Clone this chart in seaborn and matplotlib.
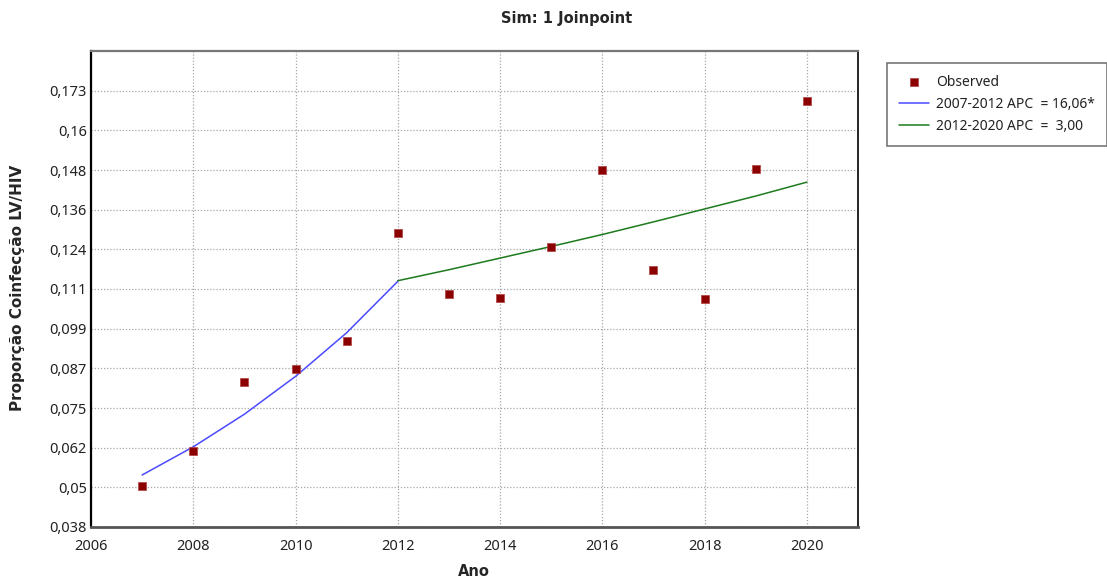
import matplotlib
matplotlib.use("Agg")
import matplotlib.pyplot as plt
import pandas as pd
import seaborn as sns

# Observed values
years = [2007, 2008, 2009, 2010, 2011, 2012, 2013, 2014, 2015, 2016, 2017, 2018, 2019, 2020]
observed = [0.0506, 0.0615, 0.0830, 0.0870, 0.0954, 0.1290, 0.1101, 0.1090,
            0.1247, 0.1484, 0.1175, 0.1085, 0.1489, 0.1697]

# Joinpoint fitted segments
seg1_years = [2007, 2008, 2009, 2010, 2011, 2012]
seg1_fit = [0.0541, 0.0628, 0.0729, 0.0846, 0.0981, 0.1140]
seg2_years = [2012, 2013, 2014, 2015, 2016, 2017, 2018, 2019, 2020]
seg2_fit = [0.1142, 0.1176, 0.1212, 0.1248, 0.1285, 0.1324, 0.1364, 0.1404, 0.1447]

seg1_label = "2007-2012 APC  = 16,06*"
seg2_label = "2012-2020 APC  =  3,00"

ytick_labels = ["0,038", "0,05", "0,062", "0,075", "0,087", "0,099",
                "0,111", "0,124", "0,136", "0,148", "0,16", "0,173"]
xticks = [2006, 2008, 2010, 2012, 2014, 2016, 2018, 2020]

df_obs = pd.DataFrame({"Ano": years, "Prop": observed})
df_s1 = pd.DataFrame({"Ano": seg1_years, "Prop": seg1_fit})
df_s2 = pd.DataFrame({"Ano": seg2_years, "Prop": seg2_fit})

sns.set_style("white")
plt.rcParams["font.family"] = ["Noto Sans", "DejaVu Sans"]

fig = plt.figure(figsize=(11.07, 5.78), dpi=100)
ax = fig.add_axes([91 / 1107, 51 / 578, (858 - 91) / 1107, (527 - 51) / 578])

sns.lineplot(data=df_s1, x="Ano", y="Prop", color="#4a4aff", linewidth=1.1,
             label=seg1_label, ax=ax)
sns.lineplot(data=df_s2, x="Ano", y="Prop", color="#1e7a1e", linewidth=1.1,
             label=seg2_label, ax=ax)
sns.scatterplot(data=df_obs, x="Ano", y="Prop", marker="s", s=40, color="#8b0000",
                edgecolor="#b04040", linewidth=0.5, label="Observed", ax=ax, zorder=5)

step = (0.173 - 0.038) / 11
yticks = [0.038 + i * step for i in range(12)]
ax.set_ylim(0.038, 0.038 + 12 * step)
ax.set_xlim(2006, 2021)
ax.set_yticks(yticks)
ax.set_yticklabels(ytick_labels)
ax.set_xticks(xticks)
ax.tick_params(labelsize=10.5, length=0, labelcolor="#222222")
ax.tick_params(axis="y", pad=3)
ax.tick_params(axis="x", pad=9)
ax.grid(True, linestyle=(0, (1, 1.5)), color="#a8a8a8", linewidth=0.9)

for side in ["left", "right"]:
    ax.spines[side].set_color("black")
ax.spines["left"].set_linewidth(1.6)
ax.spines["right"].set_linewidth(1.2)
ax.spines["bottom"].set_color("#555555")
ax.spines["bottom"].set_linewidth(2)
ax.spines["top"].set_color("#777777")
ax.spines["top"].set_linewidth(1.6)

ax.set_xlabel("")
ax.set_ylabel("")
bold = ["DejaVu Sans"]
fig.text(474 / 1107, 1 - 572 / 578, "Ano", ha="center", va="center",
         fontsize=10.5, fontweight="bold", family=bold)
fig.text(18 / 1107, 1 - 288 / 578, "Proporção Coinfecção LV/HIV", ha="center",
         va="center", rotation=90, fontsize=11, fontweight="bold", family=bold)
fig.text(567 / 1107, 1 - 18 / 578, "Sim: 1 Joinpoint", ha="center", va="center",
         fontsize=10.5, fontweight="bold", family=bold)

handles, labels = ax.get_legend_handles_labels()
order = [labels.index("Observed"), labels.index(seg1_label), labels.index(seg2_label)]
leg = ax.legend([handles[i] for i in order], [labels[i] for i in order],
                loc="upper left", bbox_to_anchor=(887 / 1107, 1 - 63 / 578),
                bbox_transform=fig.transFigure, fontsize=10, frameon=True,
                fancybox=False, edgecolor="#555555", borderpad=0.85,
                handlelength=2.2, handletextpad=0.5, labelspacing=0.5,
                borderaxespad=0)
leg.get_frame().set_linewidth(1.2)
for t in leg.get_texts():
    t.set_color("#222222")

fig.savefig("out.png", dpi=100)
